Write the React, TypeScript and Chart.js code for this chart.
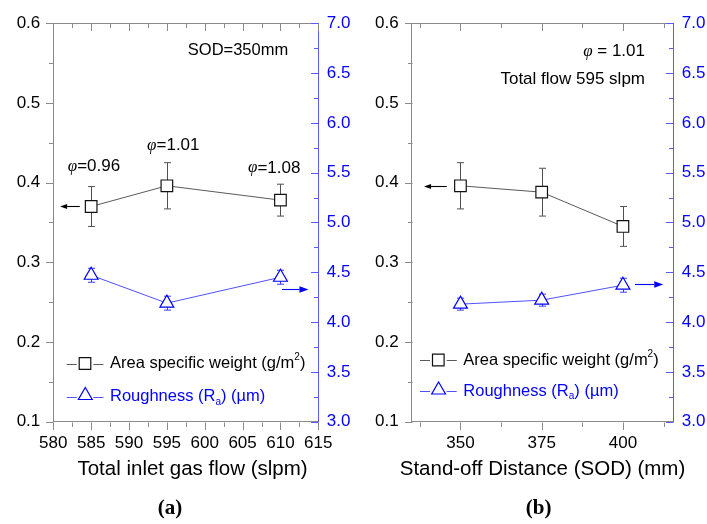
import React, { useEffect, useRef } from 'react';
import { Chart, registerables } from 'chart.js';

Chart.register(...registerables);

const FIG_W = 707;
const FIG_H = 524;
const SANS = '"Liberation Sans", Arial, sans-serif';
const SERIF = '"Liberation Serif", "Times New Roman", serif';
const BLUE = '#0000ff';
const BLUE_LINE = '#3d3dff';
const BLUE_AXIS = '#5a5aff';
const AXIS_GREY = '#8a8a8a';
const PLOT_TOP = 20;
const PLOT_BOTTOM = 421.7;

// (a) total inlet gas flow sweep, SOD = 350 mm
const flowRates = [585, 595, 610];
const flowWeight = [0.37, 0.396, 0.378];
const flowWeightErr = [0.025, 0.029, 0.02];
const flowRoughness = [4.47, 4.19, 4.45];
const flowRoughnessErr = [0.07, 0.07, 0.07];
const flowPhi = ['0.96', '1.01', '1.08'];

// (b) stand-off distance sweep, 595 slpm, phi = 1.01
const sodValues = [350, 375, 400];
const sodWeight = [0.396, 0.388, 0.345];
const sodWeightErr = [0.029, 0.03, 0.025];
const sodRoughness = [4.18, 4.22, 4.37];
const sodRoughnessErr = [0.06, 0.06, 0.07];

// axis tick labels
const flowTicks = [580, 585, 590, 595, 600, 605, 610, 615];
const sodTicks = [350, 375, 400];
const weightTicks = [0.1, 0.2, 0.3, 0.4, 0.5, 0.6];
const roughnessTicks = [3.0, 3.5, 4.0, 4.5, 5.0, 5.5, 6.0, 6.5, 7.0];

const weightLabel = 'Area specific weight (g/m²)';
const roughnessLabel = 'Roughness (Ra) (µm)';
const weightLegendRuns: Run[] = [{ t: 'Area specific weight (g/m' }, { t: '2', k: 'sup' }, { t: ')' }];
const roughnessLegendRuns: Run[] = [{ t: 'Roughness (R' }, { t: 'a', k: 'sub' }, { t: ') (µm)' }];

type Run = { t: string; k?: 'sub' | 'sup' | 'phi' };
type Note = {
  runs: Run[];
  x: number;
  y: number;
  align: 'left' | 'center' | 'right';
  size: number;
  family?: string;
  weight?: string;
};
type Arrow = { axis: 'y' | 'y2'; y: number; from: number; to: number; color: string; head: number; half: number };

type Panel = {
  left: number;
  width: number;
  areaLeft: number;
  areaRight: number;
  xMin: number;
  xMax: number;
  xTicks: number[];
  xMinor: number;
  xs: number[];
  weight: number[];
  weightErr: number[];
  rough: number[];
  roughErr: number[];
  notes: Note[];
  arrows: Arrow[];
  legendX: number;
  legendRows: number[];
};

const phiRuns = (v: string, spaced: boolean): Run[] => [
  { t: 'φ', k: 'phi' },
  { t: spaced ? ' = ' + v : '=' + v },
];

const panelA: Panel = {
  left: 0,
  width: 360,
  areaLeft: 53.3,
  areaRight: 318.3,
  xMin: 580,
  xMax: 615,
  xTicks: flowTicks,
  xMinor: 2.5,
  xs: flowRates,
  weight: flowWeight,
  weightErr: flowWeightErr,
  rough: flowRoughness,
  roughErr: flowRoughnessErr,
  notes: [
    { runs: [{ t: 'SOD=350mm' }], x: 238, y: 50, align: 'center', size: 16.5 },
    { runs: phiRuns(flowPhi[0], false), x: 94, y: 166.5, align: 'center', size: 17 },
    { runs: phiRuns(flowPhi[1], false), x: 173.3, y: 145.5, align: 'center', size: 17 },
    { runs: phiRuns(flowPhi[2], false), x: 274.2, y: 168, align: 'center', size: 17 },
    { runs: [{ t: 'Total inlet gas flow (slpm)' }], x: 192.5, y: 469, align: 'center', size: 20.5 },
    { runs: [{ t: '(a)' }], x: 170, y: 509, align: 'center', size: 21, family: SERIF, weight: 'bold' },
  ],
  arrows: [
    { axis: 'y', y: 0.371, from: 583.5, to: 580.9, color: '#000', head: 7, half: 2.6 },
    { axis: 'y2', y: 4.33, from: 610.2, to: 613.7, color: BLUE, head: 9, half: 3.2 },
  ],
  legendX: 66.7,
  legendRows: [363.5, 396.5],
};

const panelB: Panel = {
  left: 360,
  width: 347,
  areaLeft: 51.7,
  areaRight: 313.3,
  xMin: 335,
  xMax: 415.5,
  xTicks: sodTicks,
  xMinor: 12.5,
  xs: sodValues,
  weight: sodWeight,
  weightErr: sodWeightErr,
  rough: sodRoughness,
  roughErr: sodRoughnessErr,
  notes: [
    { runs: phiRuns('1.01', true), x: 285, y: 51.5, align: 'right', size: 17 },
    { runs: [{ t: 'Total flow 595 slpm' }], x: 285, y: 79, align: 'right', size: 17 },
    { runs: [{ t: 'Stand-off Distance (SOD) (mm)' }], x: 182.5, y: 469, align: 'center', size: 20.5 },
    { runs: [{ t: '(b)' }], x: 178.7, y: 509, align: 'center', size: 21, family: SERIF, weight: 'bold' },
  ],
  arrows: [
    { axis: 'y', y: 0.396, from: 345.8, to: 338.8, color: '#000', head: 7, half: 2.6 },
    { axis: 'y2', y: 4.38, from: 403.7, to: 412.4, color: BLUE, head: 9, half: 3.2 },
  ],
  legendX: 60,
  legendRows: [360, 391],
};

function runFont(r: Run, size: number, family: string, weight: string) {
  if (r.k === 'phi') return `italic ${size}px ${SERIF}`;
  if (r.k === 'sub' || r.k === 'sup') return `${weight} ${Math.round(size * 0.62)}px ${family}`;
  return `${weight} ${size}px ${family}`;
}

function drawRuns(
  ctx: CanvasRenderingContext2D,
  runs: Run[],
  x: number,
  y: number,
  size: number,
  color: string,
  align: 'left' | 'center' | 'right',
  family = SANS,
  weight = 'normal'
) {
  ctx.save();
  ctx.fillStyle = color;
  ctx.textAlign = 'left';
  ctx.textBaseline = 'middle';
  const widths = runs.map((r) => {
    ctx.font = runFont(r, size, family, weight);
    return ctx.measureText(r.t).width;
  });
  const total = widths.reduce((s, w) => s + w, 0);
  let cx = align === 'center' ? x - total / 2 : align === 'right' ? x - total : x;
  runs.forEach((r, i) => {
    ctx.font = runFont(r, size, family, weight);
    const dy = r.k === 'sub' ? size * 0.32 : r.k === 'sup' ? -size * 0.36 : 0;
    ctx.fillText(r.t, cx, y + dy);
    cx += widths[i];
  });
  ctx.restore();
}

function seg(ctx: CanvasRenderingContext2D, x0: number, y0: number, x1: number, y1: number) {
  ctx.beginPath();
  ctx.moveTo(x0, y0);
  ctx.lineTo(x1, y1);
  ctx.stroke();
}

function stepValues(min: number, max: number, step: number) {
  const out: number[] = [];
  const start = Math.ceil(min / step - 1e-9);
  for (let k = start; k * step <= max + 1e-9; k++) out.push(+(k * step).toFixed(6));
  return out;
}

const isMajor = (v: number, majors: number[]) => majors.some((m) => Math.abs(m - v) < 1e-6);

function drawSquare(ctx: CanvasRenderingContext2D, x: number, y: number, r: number) {
  const s = Math.SQRT1_2 * r;
  ctx.beginPath();
  ctx.rect(x - s, y - s, 2 * s, 2 * s);
  ctx.fill();
  ctx.stroke();
}

function drawTriangle(ctx: CanvasRenderingContext2D, x: number, y: number, r: number) {
  ctx.beginPath();
  ctx.moveTo(x, y - r);
  ctx.lineTo(x + Math.sin((2 * Math.PI) / 3) * r, y + r / 2);
  ctx.lineTo(x - Math.sin((2 * Math.PI) / 3) * r, y + r / 2);
  ctx.closePath();
  ctx.fill();
  ctx.stroke();
}

function decorPlugin(p: Panel) {
  return {
    id: 'panelDecor',
    beforeDatasetsDraw(chart: any) {
      // error bars under the markers
      const { ctx } = chart;
      const xs = chart.scales.x;
      ctx.save();
      chart.data.datasets.forEach((ds: any) => {
        const ys = chart.scales[ds.yAxisID];
        ctx.strokeStyle = ds.errorColor;
        ctx.lineWidth = 1;
        ds.data.forEach((pt: { x: number; y: number }, j: number) => {
          const e = ds.errors[j];
          const px = Math.round(xs.getPixelForValue(pt.x)) + 0.5;
          const top = ys.getPixelForValue(pt.y + e);
          const bot = ys.getPixelForValue(pt.y - e);
          seg(ctx, px, top, px, bot);
          seg(ctx, px - 3.5, top, px + 3.5, top);
          seg(ctx, px - 3.5, bot, px + 3.5, bot);
        });
      });
      ctx.restore();
    },
    afterDraw(chart: any) {
      const { ctx, chartArea: a, scales } = chart;
      const { x, y, y2 } = scales;
      ctx.save();
      ctx.lineWidth = 1;
      ctx.strokeStyle = AXIS_GREY;
      // top frame line
      const topY = Math.round(a.top) + 0.5;
      seg(ctx, a.left, topY, a.right, topY);
      const bottomY = Math.round(a.bottom) + 0.5;
      // x ticks: outward at the bottom, inward at the top
      stepValues(p.xMin, p.xMax, p.xMinor).forEach((v) => {
        const px = Math.round(x.getPixelForValue(v)) + 0.5;
        const len = isMajor(v, p.xTicks) ? 7.5 : 4.5;
        seg(ctx, px, bottomY, px, bottomY + len);
        seg(ctx, px, topY, px, topY + len);
      });
      // left axis ticks, outward
      const leftX = Math.round(a.left) + 0.5;
      stepValues(0.1, 0.6, 0.05).forEach((v) => {
        const py = Math.round(y.getPixelForValue(v)) + 0.5;
        const len = isMajor(v, weightTicks) ? 7.5 : 4.5;
        seg(ctx, leftX - len, py, leftX, py);
      });
      // right axis ticks, inward, blue
      ctx.strokeStyle = BLUE_AXIS;
      const rightX = Math.round(a.right) + 0.5;
      stepValues(3, 7, 0.25).forEach((v) => {
        const py = Math.round(y2.getPixelForValue(v)) + 0.5;
        const len = isMajor(v, roughnessTicks) ? 7.5 : 4.5;
        seg(ctx, rightX - len, py, rightX, py);
      });

      // axis-pointing arrows
      p.arrows.forEach((ar) => {
        const py = Math.round(scales[ar.axis].getPixelForValue(ar.y)) + 0.5;
        const x0 = x.getPixelForValue(ar.from);
        const x1 = x.getPixelForValue(ar.to);
        const dir = Math.sign(x1 - x0);
        ctx.strokeStyle = ar.color;
        ctx.fillStyle = ar.color;
        ctx.lineWidth = 1.1;
        seg(ctx, x0, py, x1 - dir * ar.head, py);
        ctx.beginPath();
        ctx.moveTo(x1, py);
        ctx.lineTo(x1 - dir * ar.head, py - ar.half);
        ctx.lineTo(x1 - dir * ar.head, py + ar.half);
        ctx.closePath();
        ctx.fill();
      });

      // legend inside the plot
      const ds = chart.data.datasets;
      const lx = p.legendX;
      ds.forEach((d: any, i: number) => {
        const ly = p.legendRows[i];
        const row = Math.round(ly) + 0.5;
        ctx.strokeStyle = d.borderColor;
        ctx.lineWidth = 0.9;
        seg(ctx, lx, row, lx + 10, row);
        seg(ctx, lx + 26.7, row, lx + 36.7, row);
        ctx.strokeStyle = d.pointBorderColor;
        ctx.fillStyle = '#ffffff';
        ctx.lineWidth = d.pointBorderWidth;
        if (d.pointStyle === 'rect') drawSquare(ctx, lx + 18.3, ly, d.pointRadius);
        else drawTriangle(ctx, lx + 18.6, ly - 1, d.pointRadius);
        drawRuns(ctx, d.legendRuns, lx + 43.3, ly, 16.5, d.textColor, 'left');
      });

      // annotations and titles
      p.notes.forEach((n) => {
        drawRuns(ctx, n.runs, n.x, n.y, n.size, '#000', n.align, n.family || SANS, n.weight || 'normal');
      });
      ctx.restore();
    },
  };
}

function buildConfig(p: Panel): any {
  const tickFont = { family: SANS, size: 17 };
  return {
    type: 'line',
    data: {
      datasets: [
        {
          label: weightLabel,
          legendRuns: weightLegendRuns,
          textColor: '#000000',
          data: p.xs.map((x, i) => ({ x, y: p.weight[i] })),
          errors: p.weightErr,
          errorColor: '#505050',
          yAxisID: 'y',
          borderColor: '#474747',
          borderWidth: 0.9,
          pointStyle: 'rect',
          pointRadius: 8.2,
          pointBorderColor: '#111111',
          pointBackgroundColor: '#ffffff',
          pointBorderWidth: 1.2,
        },
        {
          label: roughnessLabel,
          legendRuns: roughnessLegendRuns,
          textColor: BLUE,
          data: p.xs.map((x, i) => ({ x, y: p.rough[i] })),
          errors: p.roughErr,
          errorColor: BLUE_LINE,
          yAxisID: 'y2',
          borderColor: BLUE_LINE,
          borderWidth: 0.9,
          pointStyle: 'triangle',
          pointRadius: 8,
          pointBorderColor: BLUE,
          pointBackgroundColor: '#ffffff',
          pointBorderWidth: 1.2,
        },
      ],
    },
    options: {
      responsive: false,
      animation: false,
      devicePixelRatio: 1,
      layout: { padding: { top: PLOT_TOP, left: 0, right: 0, bottom: 0 } },
      plugins: { legend: { display: false }, tooltip: { enabled: false }, title: { display: false } },
      scales: {
        x: {
          type: 'linear',
          position: 'bottom',
          min: p.xMin,
          max: p.xMax,
          afterBuildTicks: (s: any) => {
            s.ticks = p.xTicks.map((v) => ({ value: v }));
          },
          afterFit: (s: any) => {
            s.height = FIG_H - PLOT_BOTTOM;
          },
          grid: { display: false, drawTicks: false },
          border: { display: true, color: AXIS_GREY, width: 1 },
          ticks: {
            font: tickFont,
            color: '#000',
            padding: 11,
            autoSkip: false,
            maxRotation: 0,
            callback: (v: number) => String(v),
          },
        },
        y: {
          type: 'linear',
          position: 'left',
          min: 0.1,
          max: 0.6,
          afterBuildTicks: (s: any) => {
            s.ticks = weightTicks.map((v) => ({ value: v }));
          },
          afterFit: (s: any) => {
            s.width = p.areaLeft;
          },
          grid: { display: false, drawTicks: false },
          border: { display: true, color: AXIS_GREY, width: 1 },
          ticks: {
            font: tickFont,
            color: '#000',
            padding: 13,
            autoSkip: false,
            callback: (v: number) => Number(v).toFixed(1),
          },
        },
        y2: {
          type: 'linear',
          position: 'right',
          min: 3,
          max: 7,
          afterBuildTicks: (s: any) => {
            s.ticks = roughnessTicks.map((v) => ({ value: v }));
          },
          afterFit: (s: any) => {
            s.width = p.width - p.areaRight;
          },
          grid: { display: false, drawTicks: false },
          border: { display: true, color: BLUE_AXIS, width: 1 },
          ticks: {
            font: tickFont,
            color: BLUE,
            padding: 8.5,
            autoSkip: false,
            callback: (v: number) => Number(v).toFixed(1),
          },
        },
      },
    },
    plugins: [decorPlugin(p)],
  };
}

function PanelChart({ panel }: { panel: Panel }) {
  const ref = useRef<HTMLCanvasElement>(null);
  useEffect(() => {
    const chart = new Chart(ref.current as HTMLCanvasElement, buildConfig(panel));
    return () => chart.destroy();
  }, [panel]);
  return (
    <canvas
      ref={ref}
      width={panel.width}
      height={FIG_H}
      style={{ position: 'absolute', left: panel.left, top: 0, width: panel.width, height: FIG_H }}
    />
  );
}

export default function App() {
  return (
    <div style={{ position: 'absolute', left: 0, top: 0, width: FIG_W, height: FIG_H, background: '#ffffff' }}>
      <PanelChart panel={panelA} />
      <PanelChart panel={panelB} />
    </div>
  );
}
